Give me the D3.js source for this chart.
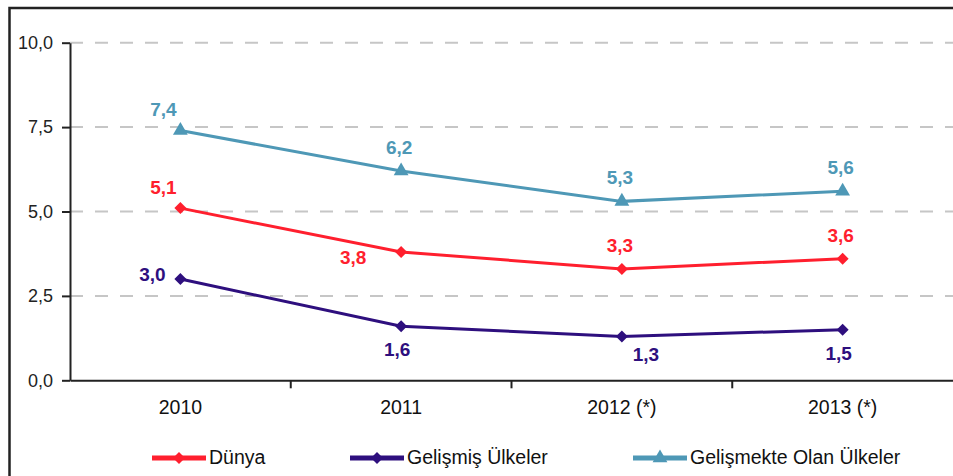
<!DOCTYPE html>
<html>
<head>
<meta charset="utf-8">
<script src="https://cdn.jsdelivr.net/npm/d3@7"></script>
<style>
  body { margin: 0; background: #fff; }
  svg { display: block; font-family: "Liberation Sans", Arial, sans-serif; }
</style>
</head>
<body>
<svg id="chart" width="953" height="476"></svg>
<script>
// 데이터
const years = ["2010", "2011", "2012 (*)", "2013 (*)"];
const yTicks = [0, 2.5, 5, 7.5, 10];
const seriesNames = ["Dünya", "Gelişmiş Ülkeler", "Gelişmekte Olan Ülkeler"];
const dunya = [5.1, 3.8, 3.3, 3.6];
const gelismis = [3.0, 1.6, 1.3, 1.5];
const gelismekte = [7.4, 6.2, 5.3, 5.6];
// 라벨 위치 (점 기준 방향)
const dunyaPlace = ["aboveLeft", "leftBelow", "above", "above"];
const gelismisPlace = ["left", "below", "belowRight", "below"];
const gelismektePlace = ["aboveLeft", "above", "above", "above"];

const colors = ["#ff1f2e", "#2e0f7e", "#4e98b6"];
// 마커: 다이아몬드는 정사각형을 45도 회전
const markers = [
    {type: d3.symbolSquare, size: 72, rotate: 45},
    {type: d3.symbolSquare, size: 72, rotate: 45},
    {type: d3.symbolTriangle, size: 95, rotate: 0}
];

const svg = d3.select("#chart");
const margin = {left: 70, top: 42.7, right: 0, bottom: 95.7};
const width = 953 - margin.left - margin.right;
const height = 476 - margin.top - margin.bottom;

// 바깥 테두리
svg.append("rect")
    .attr("x", 9.5).attr("y", 8)
    .attr("width", 960).attr("height", 500)
    .style("fill", "none").style("stroke", "#222").style("stroke-width", 2.5);

const g = svg.append("g").attr("transform", `translate(${margin.left},${margin.top})`);

const xScale = d3.scaleBand().domain(years).range([0, width]);
const yScale = d3.scaleLinear().domain([0, 10]).range([height, 0]);
const fmt = v => d3.format(".1f")(v).replace(".", ",");

// 그리드
g.selectAll("line.grid")
    .data(yTicks.filter(d => d > 0))
    .join("line")
    .attr("class", "grid")
    .attr("x1", 0).attr("x2", width)
    .attr("y1", d => yScale(d)).attr("y2", d => yScale(d))
    .style("stroke", "#c6c6c6").style("stroke-width", 2)
    .style("stroke-dasharray", "13,12");

// Y axis
const yAxis = g.append("g")
    .call(d3.axisLeft(yScale).tickValues(yTicks).tickFormat(fmt).tickSize(8).tickSizeOuter(0));
yAxis.select(".domain").style("stroke", "#222").style("stroke-width", 2);
yAxis.selectAll(".tick line").style("stroke", "#222").style("stroke-width", 2);
yAxis.selectAll("text").attr("x", -17).style("font-size", "18px").style("fill", "#222");

// X axis
const xAxis = g.append("g").attr("transform", `translate(0,${height})`)
    .call(d3.axisBottom(xScale).tickSize(0).tickSizeOuter(0));
xAxis.select(".domain").style("stroke", "#222").style("stroke-width", 2);
xAxis.selectAll("text").attr("y", 34).attr("dy", null).style("font-size", "19.5px").style("fill", "#111");
g.append("g").selectAll("line.xtick")
    .data(years.slice(1))
    .join("line")
    .attr("class", "xtick")
    .attr("x1", d => xScale(d)).attr("x2", d => xScale(d))
    .attr("y1", height).attr("y2", height + 8)
    .style("stroke", "#222").style("stroke-width", 2);

// 선 그리기
const allSeries = [
    {name: seriesNames[0], values: dunya, place: dunyaPlace},
    {name: seriesNames[1], values: gelismis, place: gelismisPlace},
    {name: seriesNames[2], values: gelismekte, place: gelismektePlace}
];
const cx = i => xScale(years[i]) + xScale.bandwidth() / 2;
const line = d3.line().x((d, i) => cx(i)).y(d => yScale(d));

const offsets = {
    above: [-2, -17],
    aboveLeft: [-17, -14],
    left: [-28, 2],
    leftBelow: [-48, 12],
    below: [-4, 30],
    belowRight: [24, 25]
};

allSeries.forEach((s, si) => {
    const m = markers[si];
    const sg = g.append("g");
    sg.append("path")
        .datum(s.values)
        .attr("d", line)
        .style("fill", "none")
        .style("stroke", colors[si])
        .style("stroke-width", 3);
    sg.selectAll("path.mark")
        .data(s.values)
        .join("path")
        .attr("class", "mark")
        .attr("transform", (d, i) => `translate(${cx(i)},${yScale(d)}) rotate(${m.rotate})`)
        .attr("d", d3.symbol().type(m.type).size(m.size))
        .style("fill", colors[si]);
    sg.selectAll("text.label")
        .data(s.values)
        .join("text")
        .attr("class", "label")
        .attr("x", (d, i) => cx(i) + offsets[s.place[i]][0])
        .attr("y", (d, i) => yScale(d) + offsets[s.place[i]][1])
        .attr("text-anchor", "middle")
        .style("font-size", "19px")
        .style("font-weight", "bold")
        .style("fill", colors[si])
        .text(fmt);
});

// 범례
const legendX = [152, 350, 633];
const legend = svg.append("g").attr("transform", "translate(0,458)");
seriesNames.forEach((name, i) => {
    const m = markers[i];
    const lg = legend.append("g").attr("transform", `translate(${legendX[i]},0)`);
    lg.append("line")
        .attr("x1", 0).attr("x2", 54)
        .style("stroke", colors[i]).style("stroke-width", 5);
    lg.append("path")
        .attr("transform", `translate(27,0) rotate(${m.rotate})`)
        .attr("d", d3.symbol().type(m.type).size(m.size))
        .style("fill", colors[i]);
    lg.append("text")
        .attr("x", 57).attr("y", 6)
        .style("font-size", "19.5px")
        .style("fill", "#111")
        .text(name);
});
</script>
</body>
</html>
